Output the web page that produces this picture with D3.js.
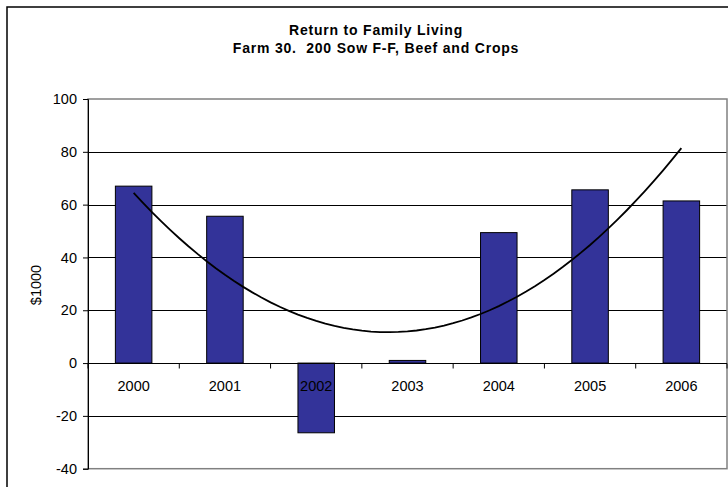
<!DOCTYPE html>
<html>
<head>
<meta charset="utf-8">
<script src="https://cdn.jsdelivr.net/npm/d3@7"></script>
<style>
  html, body { margin: 0; padding: 0; background: #fff; }
  svg { display: block; font-family: "Liberation Sans", Arial, sans-serif; }
  .title { white-space: pre; }
</style>
</head>
<body>
<svg id="chart" width="728" height="487"></svg>
<script>
// Return to Family Living, $1000 per year
const years = ["2000", "2001", "2002", "2003", "2004", "2005", "2006"];
const returns = [67.0, 55.6, -26.4, 1.0, 49.4, 65.6, 61.4];
const yTicks = [-40, -20, 0, 20, 40, 60, 80, 100];
const titleLines = ["Return to Family Living", "Farm 30.  200 Sow F-F, Beef and Crops"];
const yTitle = "$1000";

const svg = d3.select("#chart");
const W = 728, H = 487;
const plot = { left: 88, right: 727, top: 99, bottom: 468.7 };

// outer chart frame
svg.append("rect")
  .attr("x", 7).attr("y", 7)
  .attr("width", W + 20).attr("height", H + 20)
  .attr("fill", "#fff").attr("stroke", "#000").attr("stroke-width", 1.5);

// title
svg.append("g").selectAll("text").data(titleLines).join("text")
  .attr("class", "title")
  .attr("x", 376).attr("y", (d, i) => 35 + i * 18)
  .attr("text-anchor", "middle")
  .attr("font-weight", "bold").attr("font-size", 14)
  .attr("letter-spacing", 0.8)
  .text(d => d);

const x = d3.scaleBand().domain(years)
  .range([plot.left, plot.right])
  .paddingInner(0.6).paddingOuter(0.3);
const step = x.step();
const y = d3.scaleLinear().domain([-40, 100]).range([plot.bottom, plot.top]);

// gridlines
svg.append("g").selectAll("line")
  .data(yTicks.filter(v => v !== 0 && v !== 100 && v !== -40)).join("line")
  .attr("x1", plot.left).attr("x2", plot.right)
  .attr("y1", d => Math.round(y(d)) + 0.5).attr("y2", d => Math.round(y(d)) + 0.5)
  .attr("stroke", "#000").attr("stroke-width", 1);

// plot area border
svg.append("rect")
  .attr("x", plot.left).attr("y", plot.top)
  .attr("width", plot.right - plot.left).attr("height", plot.bottom - plot.top)
  .attr("fill", "none").attr("stroke", "#808080").attr("stroke-width", 1.5);

// bars
svg.append("g").selectAll("rect").data(years).join("rect")
  .attr("x", d => x(d))
  .attr("width", x.bandwidth())
  .attr("y", (d, i) => y(Math.max(0, returns[i])))
  .attr("height", (d, i) => Math.abs(y(returns[i]) - y(0)))
  .attr("fill", "#333399").attr("stroke", "#000").attr("stroke-width", 1);

// y axis
const yAxis = d3.axisLeft(y).tickValues(yTicks).tickFormat(d => String(d))
  .tickSize(5).tickPadding(6);
const gy = svg.append("g").attr("transform", `translate(${plot.left},0)`).call(yAxis);
gy.select(".domain").attr("stroke", "#000");
gy.selectAll(".tick line").attr("stroke", "#000");
gy.selectAll(".tick text").attr("font-size", 14.5).attr("fill", "#000")
  .attr("font-family", "Liberation Sans, Arial, sans-serif");

// category axis on the zero line, ticks at category boundaries
const zeroY = Math.round(y(0)) + 0.5;
svg.append("line")
  .attr("x1", plot.left).attr("x2", plot.right)
  .attr("y1", zeroY).attr("y2", zeroY)
  .attr("stroke", "#000").attr("stroke-width", 1);
const bounds = d3.range(years.length + 1).map(i => plot.left + i * step);
svg.append("g").selectAll("line").data(bounds).join("line")
  .attr("x1", d => d).attr("x2", d => d)
  .attr("y1", zeroY).attr("y2", zeroY + 5)
  .attr("stroke", "#000");

svg.append("g").selectAll("text").data(years).join("text")
  .attr("x", d => x(d) + x.bandwidth() / 2)
  .attr("y", zeroY + 27)
  .attr("text-anchor", "middle")
  .attr("font-size", 14.5)
  .text(d => d);

// y axis title
svg.append("text")
  .attr("transform", "translate(41,285) rotate(-90)")
  .attr("text-anchor", "middle")
  .attr("font-size", 14.5)
  .text(yTitle);

// second-order polynomial trendline (least squares) over the category index
function polyFit2(ys) {
  const n = ys.length;
  let s0 = n, s1 = 0, s2 = 0, s3 = 0, s4 = 0, t0 = 0, t1 = 0, t2 = 0;
  ys.forEach((v, i) => {
    const t = i + 1;
    s1 += t; s2 += t * t; s3 += t ** 3; s4 += t ** 4;
    t0 += v; t1 += t * v; t2 += t * t * v;
  });
  const M = [[s0, s1, s2, t0], [s1, s2, s3, t1], [s2, s3, s4, t2]];
  for (let c = 0; c < 3; c++) {
    for (let r = c + 1; r < 3; r++) {
      const f = M[r][c] / M[c][c];
      for (let k = c; k < 4; k++) M[r][k] -= f * M[c][k];
    }
  }
  const coef = [0, 0, 0];
  for (let r = 2; r >= 0; r--) {
    let s = M[r][3];
    for (let k = r + 1; k < 3; k++) s -= M[r][k] * coef[k];
    coef[r] = s / M[r][r];
  }
  return t => coef[0] + coef[1] * t + coef[2] * t * t;
}
const trend = polyFit2(returns);
const xIdx = d3.scaleLinear().domain([1, years.length])
  .range([x(years[0]) + x.bandwidth() / 2, x(years[years.length - 1]) + x.bandwidth() / 2]);
const samples = d3.range(1, years.length + 0.0001, 0.1);
svg.append("path")
  .datum(samples)
  .attr("d", d3.line().x(t => xIdx(t)).y(t => y(trend(t))))
  .attr("fill", "none").attr("stroke", "#000").attr("stroke-width", 1.8);
</script>
</body>
</html>
